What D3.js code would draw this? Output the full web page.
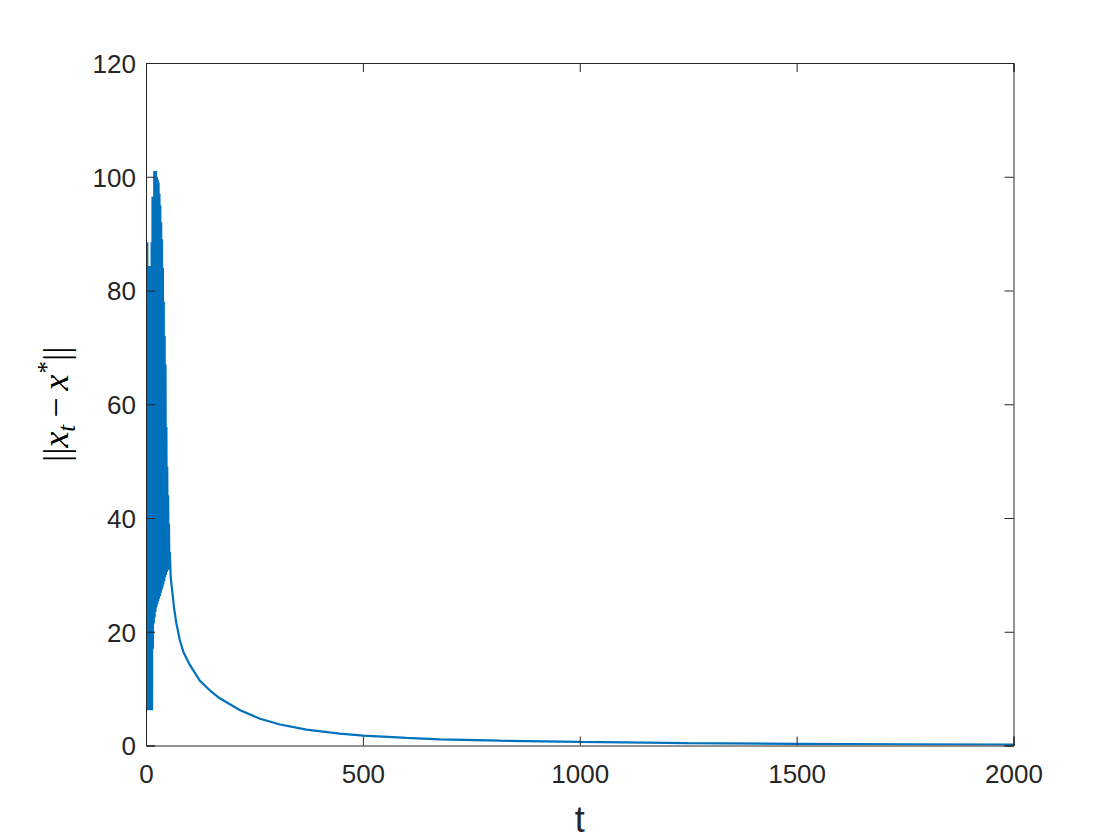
<!DOCTYPE html>
<html>
<head>
<meta charset="utf-8">
<script src="https://cdn.jsdelivr.net/npm/d3@7"></script>
<style>
  html, body { margin: 0; padding: 0; background: #ffffff; }
  svg { display: block; }
</style>
</head>
<body>
<svg id="chart" width="1120" height="840"></svg>
<script>
// ---- data ----
// iteration index t and the distance ||x_t - x*||
const iterT = [
  1, 2, 3, 4, 5, 6, 7, 8, 9, 10,
  11, 12, 13, 14, 15, 16, 17, 18, 19, 20,
  21, 22, 23, 24, 25, 26, 27, 28, 29, 30,
  31, 32, 33, 34, 35, 36, 37, 38, 39, 40,
  41, 42, 43, 44, 45, 46, 47, 48, 49, 50,
  51, 52, 53, 54, 55,
  57, 60, 65, 70, 78, 86, 100, 124, 147, 170,
  217, 263, 309, 370, 447, 501, 601, 677, 816, 1000,
  1250, 1500, 1750, 2000
];
const distValues = [
  88.5, 6.2, 88.5, 6.2, 84.3, 6.2, 84.3, 6.2, 84.3, 6.2,
  84.3, 6.2, 88.5, 6.2, 96.5, 17.0, 96.5, 21.5, 101.0, 22.5,
  101.0, 23.5, 101.0, 24.3, 100.0, 24.8, 99.5, 25.3, 99.0, 25.8,
  97.0, 26.3, 95.0, 26.8, 92.0, 27.3, 89.0, 27.8, 84.0, 28.3,
  78.0, 28.9, 72.0, 29.6, 67.0, 30.0, 56.0, 30.5, 49.0, 30.8,
  44.0, 31.0, 39.0, 31.0, 34.0,
  29.5, 27.5, 24.0, 21.5, 18.5, 16.5, 14.3, 11.4, 9.7, 8.3,
  6.2, 4.7, 3.7, 2.8, 2.1, 1.75, 1.35, 1.08, 0.85, 0.62,
  0.42, 0.30, 0.22, 0.16
];
const xTicks = [0, 500, 1000, 1500, 2000];
const yTicks = [0, 20, 40, 60, 80, 100, 120];
const xLabel = "t";

// ---- layout ----
const W = 1120, H = 840;
const plotL = 146, plotR = 1013.5, plotT = 63, plotB = 745.5;
const axisColor = "#262626";
const lineColor = "#0072BD";
const tickLen = 9;

const svg = d3.select("#chart");
svg.append("rect").attr("width", W).attr("height", H).attr("fill", "#ffffff");

const x = d3.scaleLinear().domain([0, 2000]).range([plotL, plotR]);
const y = d3.scaleLinear().domain([0, 120]).range([plotB, plotT]);

const data = iterT.map((t, i) => ({ t, v: distValues[i] }));

svg.append("clipPath").attr("id", "clip")
  .append("rect").attr("x", plotL).attr("y", plotT)
  .attr("width", plotR - plotL).attr("height", plotB - plotT);

const line = d3.line().x(d => x(d.t)).y(d => y(d.v));
svg.append("path")
  .datum(data)
  .attr("clip-path", "url(#clip)")
  .attr("fill", "none")
  .attr("stroke", lineColor)
  .attr("stroke-width", 2.2)
  .attr("stroke-linejoin", "bevel")
  .attr("d", line);

const font = "'Liberation Sans', Arial, Helvetica, sans-serif";

const gB = svg.append("g").attr("transform", `translate(0,${plotB})`)
  .call(d3.axisBottom(x).tickValues(xTicks).tickSize(-tickLen).tickPadding(19).tickFormat(d3.format("d")));
const gT = svg.append("g").attr("transform", `translate(0,${plotT})`)
  .call(d3.axisTop(x).tickValues(xTicks).tickSize(-tickLen).tickFormat(""));
const gL = svg.append("g").attr("transform", `translate(${plotL},0)`)
  .call(d3.axisLeft(y).tickValues(yTicks).tickSize(-tickLen).tickPadding(10).tickFormat(d3.format("d")));
const gR = svg.append("g").attr("transform", `translate(${plotR},0)`)
  .call(d3.axisRight(y).tickValues(yTicks).tickSize(-tickLen).tickFormat(""));

[gB, gT, gL, gR].forEach(g => {
  g.select(".domain").attr("stroke", axisColor).attr("stroke-width", 1);
  g.selectAll(".tick line").attr("stroke", axisColor).attr("stroke-width", 1);
  g.selectAll(".tick text")
    .attr("fill", axisColor)
    .style("font-family", font)
    .style("font-size", "26px");
});
gL.selectAll(".tick text").attr("dy", "0.36em");

svg.append("text")
  .attr("x", (plotL + plotR) / 2)
  .attr("y", 832)
  .attr("text-anchor", "middle")
  .attr("fill", axisColor)
  .style("font-family", font)
  .style("font-size", "36px")
  .text(xLabel);

// y label: ||x_t - x^*||
const yl = svg.append("text")
  .attr("transform", `translate(68,${(plotT + plotB) / 2}) rotate(-90)`)
  .attr("text-anchor", "middle")
  .attr("fill", "#000000")
  .style("font-family", "'Liberation Serif', 'Times New Roman', serif")
  .style("font-size", "36px");
yl.append("tspan").text("||");
yl.append("tspan").style("font-style", "italic").text("x");
yl.append("tspan").style("font-style", "italic").style("font-size", "25px").attr("dy", 7).text("t");
yl.append("tspan").attr("dy", -7).attr("dx", 7).text("\u2212");
yl.append("tspan").attr("dx", 7).style("font-style", "italic").text("x");
yl.append("tspan").style("font-size", "25px").attr("dy", -13).attr("dx", 1).text("*");
yl.append("tspan").attr("dy", 13).text("||");
</script>
</body>
</html>
